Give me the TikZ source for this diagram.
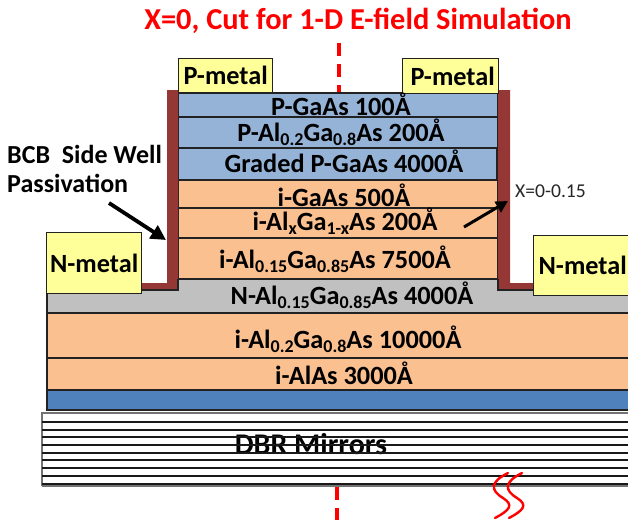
\documentclass[tikz,border=0pt]{standalone}
\usepackage{fontspec}
\setmainfont{Carlito}
\usetikzlibrary{arrows.meta}
\definecolor{pblue}{HTML}{95B3D7}
\definecolor{iorange}{HTML}{FAC090}
\definecolor{ngrey}{HTML}{C0C0C0}
\definecolor{sblue}{HTML}{4F81BD}
\definecolor{mety}{HTML}{FFFF99}
\definecolor{bcb}{HTML}{953735}
\definecolor{dline}{HTML}{222222}
\newcommand{\fnt}[1]{\fontsize{#1}{#1}\selectfont}
\newcommand{\sbs}[1]{\raisebox{-4.5pt}{\fnt{18}#1}}
\tikzset{
  x=1pt,y=-1pt,
  layerbox/.style={draw=dline,line width=1.3pt},
  metalbox/.style={draw=dline,line width=1.3pt,fill=mety,anchor=north west,inner sep=0pt,font=\fnt{26.3}\bfseries},
  lab/.style={anchor=base,inner sep=0pt,font=\fnt{26.3}\bfseries,text=black},
  cutline/.style={draw=red,line width=4.2pt,dash pattern=on 13pt off 8pt},
  bigarrow/.style={draw=black,line width=3.8pt,-{Triangle[length=15pt,width=15pt]}},
  mirror/.style={draw=black!90,line width=1.3pt},
  squig/.style={draw=red,line width=2.4pt,line cap=round},
}
\begin{document}
\begin{tikzpicture}
\useasboundingbox (0,0) rectangle (628,520);
% lower stack
\fill[ngrey] (47,290) -- (178,290) -- (178,279) -- (498,279) -- (498,290) -- (640,290) -- (640,313) -- (47,313) -- cycle;
\draw[layerbox] (47,290) -- (47,313);
\draw[layerbox,fill=iorange] (47,313) rectangle (640,358);
\draw[layerbox,fill=iorange] (47,358) rectangle (640,390);
\draw[layerbox,fill=sblue] (47,390) rectangle (640,410);
% mesa
\draw[layerbox,fill=pblue] (178,93) rectangle (498,117);
\draw[layerbox,fill=pblue] (178,117) rectangle (498,148);
\draw[layerbox,fill=pblue] (178,148) rectangle (497,180);
\draw[layerbox,fill=iorange] (178,180) rectangle (498,208);
\draw[layerbox,fill=iorange] (178,208) rectangle (498,238);
\draw[layerbox,fill=iorange] (178,238) rectangle (498,279);
% passivation
\fill[bcb] (167,90) -- (178,90) -- (178,290) -- (142,290) -- (142,283) -- (167,283) -- cycle;
\draw[dline,line width=1.3pt] (142,290) -- (178,290) -- (178,279);
\fill[bcb] (498,90) -- (510,90) -- (510,283) -- (534,283) -- (534,290) -- (498,290) -- cycle;
\draw[dline,line width=1.3pt] (498,279) -- (498,290) -- (534,290);
% metals
\node[metalbox,minimum width=94pt,minimum height=34pt] (pl) at (178,58) {P-metal};
\node[metalbox,minimum width=96pt,minimum height=35pt] (pr) at (402,58) {\hspace{4pt}P-metal};
\node[metalbox,minimum width=95pt,minimum height=61pt] (nl) at (46,232) {N-metal};
\node[metalbox,minimum width=100pt,minimum height=60pt,text width=95pt,align=left] (nr) at (533,235) {\hspace{2.5pt}N-metal};
% layer labels
\node[lab] (t1) at (341,115) {P-GaAs 100Å};
\node[lab] (t2) at (341,141) {P-Al\sbs{0.2}Ga\sbs{0.8}As 200Å};
\node[lab] (t3) at (344,172) {Graded P-GaAs 4000Å};
\node[lab] (t4) at (344,206) {i-GaAs 500Å};
\node[lab] (t5) at (345,230) {i-Al\sbs{x}Ga\sbs{1-x}As 200Å};
\node[lab] (t6) at (335,268) {i-Al\sbs{0.15}Ga\sbs{0.85}As 7500Å};
\node[lab] (t7) at (352,304) {N-Al\sbs{0.15}Ga\sbs{0.85}As 4000Å};
\node[lab] (t8) at (348,348) {i-Al\sbs{0.2}Ga\sbs{0.8}As 10000Å};
\node[lab] (t9) at (344,384) {i-AlAs 3000Å};
% DBR
\fill[white] (42,412) rectangle (640,486);
\node[lab,font=\fnt{30}\bfseries] (dbr) at (311,454) {DBR Mirrors};
\draw[draw=black!55,line width=1.6pt] (42,486) -- (42,413) -- (640,413);
\draw[draw=black!55,line width=1.2pt] (42,486) -- (640,486);
\foreach \yy in {422,430,437,445,453,460,468,476,484}
  \draw[mirror] (42,\yy) -- (640,\yy);
% title and cut
\node[anchor=base,inner sep=0pt,font=\fnt{30.4}\bfseries,text=red] (title) at (358,29) {X=0, Cut for 1-D E-field Simulation};
\coordinate (cuta) at (339,43);
\coordinate (cutb) at (339,92);
\coordinate (cutc) at (337,487);
\coordinate (cutd) at (337,520);
\draw[cutline] (cuta) -- (cutb);
\draw[cutline] (cutc) -- (cutd);
% annotations
\node[lab,anchor=base west,font=\fnt{26}\bfseries] (bcbl) at (7,163.5) {BCB\ \ Side Well};
\node[lab,anchor=base west,font=\fnt{26}\bfseries] (pas) at (7,192) {Passivation};
\coordinate (aa) at (109,203);
\coordinate (ab) at (166,240);
\draw[bigarrow] (aa) -- (ab);
\node[anchor=base west,inner sep=0pt,font=\fnt{19.6},text=black!85] (xl) at (515,197) {X=0-0.15};
\coordinate (ba) at (464,227);
\coordinate (bb) at (508,201);
\draw[draw=black,line width=3pt,-{Triangle[length=12pt,width=12pt]}] (ba) -- (bb);
% break marks
\draw[squig] (508,473) .. controls (490,482) and (490,490) .. (503,498) .. controls (514,505) and (510,510) .. (495,518);
\draw[squig] (522,473) .. controls (504,482) and (504,490) .. (517,498) .. controls (528,505) and (524,510) .. (509,518);
\end{tikzpicture}
\end{document}
